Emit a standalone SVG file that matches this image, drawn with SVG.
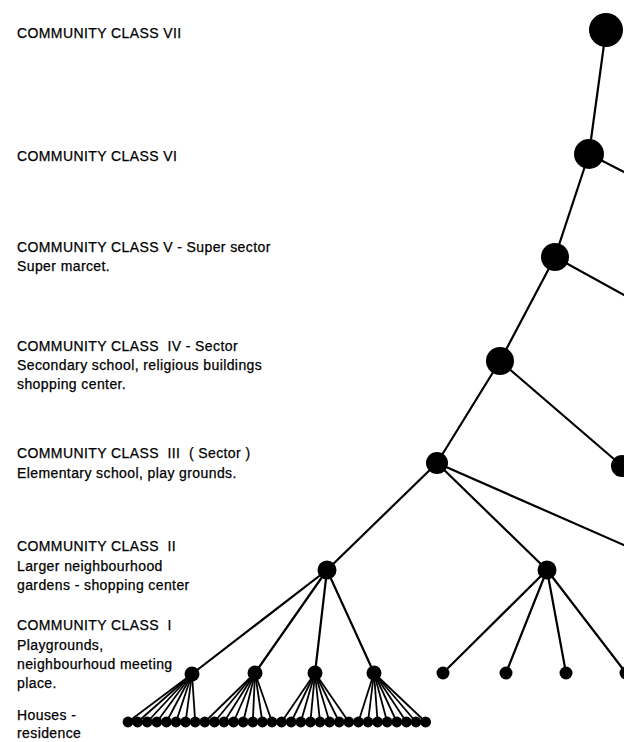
<svg xmlns="http://www.w3.org/2000/svg" width="624" height="742" viewBox="0 0 624 742">
<style>
.t{font-family:"Liberation Sans",Arial,sans-serif;font-size:14px;letter-spacing:0.4px;fill:#000;stroke:#000;stroke-width:0.25;white-space:pre}
.e{stroke:#000;stroke-width:2.2;fill:none;stroke-linecap:round}
.f{stroke:#000;stroke-width:1.8;fill:none}
.n{fill:#000}
</style>
<rect width="624" height="742" fill="#fff"/>
<g id="labels">
<text class="t" x="17" y="37.5">COMMUNITY CLASS VII</text>
<text class="t" x="17" y="160.5">COMMUNITY CLASS VI</text>
<text class="t" x="17" y="251.5">COMMUNITY CLASS V - Super sector</text>
<text class="t" x="17" y="271">Super marcet.</text>
<text class="t" x="17" y="350.5">COMMUNITY CLASS  IV - Sector</text>
<text class="t" x="17" y="370">Secondary school, religious buildings</text>
<text class="t" x="17" y="389">shopping center.</text>
<text class="t" x="17" y="458">COMMUNITY CLASS  III  ( Sector )</text>
<text class="t" x="17" y="478">Elementary school, play grounds.</text>
<text class="t" x="17" y="551">COMMUNITY CLASS  II</text>
<text class="t" x="17" y="570.5">Larger neighbourhood</text>
<text class="t" x="17" y="589.5">gardens - shopping center</text>
<text class="t" x="17" y="630">COMMUNITY CLASS  I</text>
<text class="t" x="17" y="649.5">Playgrounds,</text>
<text class="t" x="17" y="669">neighbourhoud meeting</text>
<text class="t" x="17" y="688">place.</text>
<text class="t" x="17" y="720">Houses -</text>
<text class="t" x="17" y="738">residence</text>
</g>
<g id="connectors">
<line class="e" x1="606" y1="30" x2="589" y2="154"/>
<line class="e" x1="589" y1="154" x2="555" y2="257"/>
<line class="e" x1="589" y1="154" x2="626" y2="173"/>
<line class="e" x1="555" y1="257" x2="500" y2="361"/>
<line class="e" x1="555" y1="257" x2="626" y2="296"/>
<line class="e" x1="500" y1="361" x2="437" y2="463"/>
<line class="e" x1="500" y1="361" x2="622" y2="466"/>
<line class="e" x1="437" y1="463" x2="327" y2="570"/>
<line class="e" x1="437" y1="463" x2="547" y2="570"/>
<line class="e" x1="437" y1="463" x2="626" y2="546"/>
<line class="e" x1="327" y1="570" x2="192" y2="674"/>
<line class="e" x1="327" y1="570" x2="255" y2="673"/>
<line class="e" x1="327" y1="570" x2="315" y2="673"/>
<line class="e" x1="327" y1="570" x2="374" y2="673"/>
<line class="e" x1="547" y1="570" x2="443" y2="673"/>
<line class="e" x1="547" y1="570" x2="506" y2="673"/>
<line class="e" x1="547" y1="570" x2="566" y2="673"/>
<line class="e" x1="547" y1="570" x2="626" y2="673"/>
<g class="f">
<line x1="192" y1="674" x2="128" y2="722"/><line x1="192" y1="674" x2="137.6" y2="722"/><line x1="192" y1="674" x2="147.2" y2="722"/><line x1="192" y1="674" x2="156.8" y2="722"/><line x1="192" y1="674" x2="166.4" y2="722"/><line x1="192" y1="674" x2="176" y2="722"/><line x1="192" y1="674" x2="185.6" y2="722"/><line x1="192" y1="674" x2="195.2" y2="722"/>
<line x1="255" y1="673" x2="204.8" y2="722"/><line x1="255" y1="673" x2="214.4" y2="722"/><line x1="255" y1="673" x2="224" y2="722"/><line x1="255" y1="673" x2="233.6" y2="722"/><line x1="255" y1="673" x2="243.2" y2="722"/><line x1="255" y1="673" x2="252.8" y2="722"/><line x1="255" y1="673" x2="262.4" y2="722"/><line x1="255" y1="673" x2="272" y2="722"/>
<line x1="315" y1="673" x2="281.6" y2="722"/><line x1="315" y1="673" x2="291.2" y2="722"/><line x1="315" y1="673" x2="300.8" y2="722"/><line x1="315" y1="673" x2="310.4" y2="722"/><line x1="315" y1="673" x2="320" y2="722"/><line x1="315" y1="673" x2="329.6" y2="722"/><line x1="315" y1="673" x2="339.2" y2="722"/><line x1="315" y1="673" x2="348.8" y2="722"/>
<line x1="374" y1="673" x2="358.4" y2="722"/><line x1="374" y1="673" x2="368" y2="722"/><line x1="374" y1="673" x2="377.6" y2="722"/><line x1="374" y1="673" x2="387.2" y2="722"/><line x1="374" y1="673" x2="396.8" y2="722"/><line x1="374" y1="673" x2="406.4" y2="722"/><line x1="374" y1="673" x2="416" y2="722"/><line x1="374" y1="673" x2="425.6" y2="722"/>
</g>
</g>
<g id="class7"><circle class="n" cx="606" cy="30" r="17"/></g>
<g id="class6"><circle class="n" cx="589" cy="154" r="15"/></g>
<g id="class5"><circle class="n" cx="555" cy="257" r="14"/></g>
<g id="class4"><circle class="n" cx="500" cy="361" r="14"/></g>
<g id="class3a"><circle class="n" cx="437" cy="463" r="11"/></g>
<g id="class3b"><circle class="n" cx="622" cy="466" r="11"/></g>
<g id="class2a"><circle class="n" cx="327" cy="570" r="9.5"/></g>
<g id="class2b"><circle class="n" cx="547" cy="570" r="9.5"/></g>
<g id="class1a"><circle class="n" cx="192" cy="674" r="7.5"/></g>
<g id="class1b"><circle class="n" cx="255" cy="673" r="7.5"/></g>
<g id="class1c"><circle class="n" cx="315" cy="673" r="7.5"/></g>
<g id="class1d"><circle class="n" cx="374" cy="673" r="7.5"/></g>
<g id="class1e"><circle class="n" cx="443" cy="673" r="6.5"/></g>
<g id="class1f"><circle class="n" cx="506" cy="673" r="6.5"/></g>
<g id="class1g"><circle class="n" cx="566" cy="673" r="6.5"/></g>
<g id="class1h"><circle class="n" cx="626" cy="673" r="6.5"/></g>
<g id="houses">
<g id="h1"><circle class="n" cx="128" cy="722" r="5.4"/></g>
<g id="h2"><circle class="n" cx="137.6" cy="722" r="5.4"/></g>
<g id="h3"><circle class="n" cx="147.2" cy="722" r="5.4"/></g>
<g id="h4"><circle class="n" cx="156.8" cy="722" r="5.4"/></g>
<g id="h5"><circle class="n" cx="166.4" cy="722" r="5.4"/></g>
<g id="h6"><circle class="n" cx="176" cy="722" r="5.4"/></g>
<g id="h7"><circle class="n" cx="185.6" cy="722" r="5.4"/></g>
<g id="h8"><circle class="n" cx="195.2" cy="722" r="5.4"/></g>
<g id="h9"><circle class="n" cx="204.8" cy="722" r="5.4"/></g>
<g id="h10"><circle class="n" cx="214.4" cy="722" r="5.4"/></g>
<g id="h11"><circle class="n" cx="224" cy="722" r="5.4"/></g>
<g id="h12"><circle class="n" cx="233.6" cy="722" r="5.4"/></g>
<g id="h13"><circle class="n" cx="243.2" cy="722" r="5.4"/></g>
<g id="h14"><circle class="n" cx="252.8" cy="722" r="5.4"/></g>
<g id="h15"><circle class="n" cx="262.4" cy="722" r="5.4"/></g>
<g id="h16"><circle class="n" cx="272" cy="722" r="5.4"/></g>
<g id="h17"><circle class="n" cx="281.6" cy="722" r="5.4"/></g>
<g id="h18"><circle class="n" cx="291.2" cy="722" r="5.4"/></g>
<g id="h19"><circle class="n" cx="300.8" cy="722" r="5.4"/></g>
<g id="h20"><circle class="n" cx="310.4" cy="722" r="5.4"/></g>
<g id="h21"><circle class="n" cx="320" cy="722" r="5.4"/></g>
<g id="h22"><circle class="n" cx="329.6" cy="722" r="5.4"/></g>
<g id="h23"><circle class="n" cx="339.2" cy="722" r="5.4"/></g>
<g id="h24"><circle class="n" cx="348.8" cy="722" r="5.4"/></g>
<g id="h25"><circle class="n" cx="358.4" cy="722" r="5.4"/></g>
<g id="h26"><circle class="n" cx="368" cy="722" r="5.4"/></g>
<g id="h27"><circle class="n" cx="377.6" cy="722" r="5.4"/></g>
<g id="h28"><circle class="n" cx="387.2" cy="722" r="5.4"/></g>
<g id="h29"><circle class="n" cx="396.8" cy="722" r="5.4"/></g>
<g id="h30"><circle class="n" cx="406.4" cy="722" r="5.4"/></g>
<g id="h31"><circle class="n" cx="416" cy="722" r="5.4"/></g>
<g id="h32"><circle class="n" cx="425.6" cy="722" r="5.4"/></g>
</g>
</svg>
